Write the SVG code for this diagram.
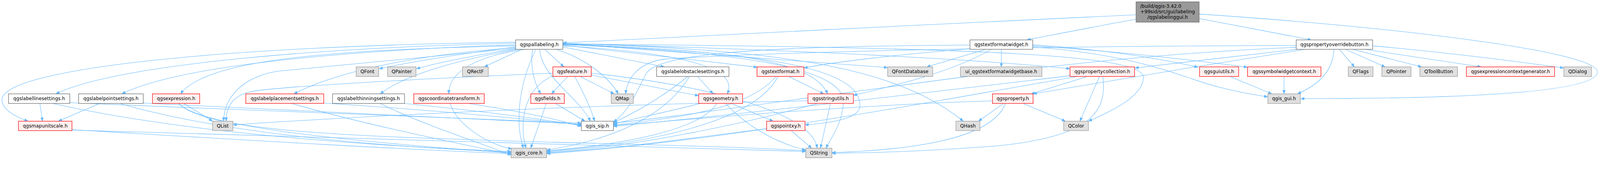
<svg xmlns="http://www.w3.org/2000/svg" width="4335" height="432" viewBox="0 0 4335 432" style="max-width:100vw;height:auto">
<style>
.w{fill:#ffffff;stroke:#666666;stroke-width:1.3}
.g{fill:#e0e0e0;stroke:#999999;stroke-width:1.3}
.r{fill:#fff0f0;stroke:#ff0000;stroke-width:1.3}
.top{fill:#999999;stroke:#666666;stroke-width:1.3}
text{font-family:"DejaVu Sans","Liberation Sans",sans-serif;font-size:12.8px;fill:#000000;text-anchor:middle}
#edges path{fill:none;stroke:#63b8ff;stroke-width:1.1;marker-end:url(#ah)}
</style>
<defs>
<marker id="ah" viewBox="0 0 10 8" refX="10" refY="4" markerWidth="10" markerHeight="8" markerUnits="userSpaceOnUse" orient="auto">
<polygon points="0,0 10,4 0,8" fill="#63b8ff" stroke="#63b8ff" stroke-width="0.5"/>
</marker>
</defs>
<rect width="4335" height="432" fill="#ffffff"/>
<g id="edges">
<path d="M3078,40 C2600,60 1900,100 1525,116"/>
<path d="M3078,52 C2950,75 2850,95 2782,108"/>
<path d="M3249,50 C3380,75 3480,95 3553,108"/>
<path d="M3249,38 C3800,75 4330,140 4328,195 C4326,255 3900,267 3524,267"/>
<path d="M1397,117 C900,128 330,170 151,254"/>
<path d="M1397,121 C1000,135 500,170 330,254"/>
<path d="M1397,124 C900,135 560,160 489,254"/>
<path d="M1397,114 C600,125 30,185 6,265 C0,295 40,315 76,328"/>
<path d="M1400,131 C1100,160 900,180 760,192 C680,200 606,250 606,328"/>
<path d="M1397,127 C1250,145 1100,170 1027,186"/>
<path d="M1400,132 C1280,150 1180,172 1128,186"/>
<path d="M1415,133 L1312,181"/>
<path d="M1397,129 C1100,150 900,200 796,254"/>
<path d="M1405,133 C1250,160 1100,200 1030,254"/>
<path d="M1425,133 C1300,150 1215,190 1216,254"/>
<path d="M1475,133 L1528,181"/>
<path d="M1443,133 C1435,180 1448,225 1465,254"/>
<path d="M1452,133 C1405,230 1395,330 1418,401"/>
<path d="M1462,133 C1468,210 1560,255 1600,328"/>
<path d="M1505,133 C1590,160 1650,210 1675,254"/>
<path d="M1525,127 L1800,181"/>
<path d="M1525,124 C1800,140 2010,175 1970,254"/>
<path d="M1525,122 L2052,182"/>
<path d="M1525,120 C1900,135 2200,150 2242,254"/>
<path d="M1525,118 L2405,183"/>
<path d="M1525,117 C2100,135 2420,175 2610,328"/>
<path d="M1525,119 C2050,140 2330,180 2330,285 C2330,320 2260,332 2181,338"/>
<path d="M1525,121 C2150,145 2290,210 2285,280 C2280,340 2250,375 2238,401"/>
<path d="M1525,118 C2200,135 2700,165 2899,186"/>
<path d="M1525,119 C2700,128 3100,150 3098,210 C3096,265 3000,305 2949,328"/>
<path d="M1538,207 L1494,254"/>
<path d="M1572,207 L1664,254"/>
<path d="M1557,207 C1580,250 1600,290 1611,328"/>
<path d="M1498,205 C1420,240 1405,330 1425,401"/>
<path d="M1498,198 C1100,215 750,235 680,248 C630,258 612,290 613,328"/>
<path d="M1602,203 L1893,259"/>
<path d="M1602,198 C1900,230 2200,300 2214,401"/>
<path d="M1890,207 L1932,254"/>
<path d="M1863,207 C1800,260 1720,305 1662,332"/>
<path d="M1868,207 C1800,320 1650,380 1481,406"/>
<path d="M1897,280 C1800,305 1720,320 1662,336"/>
<path d="M1942,280 C1900,350 1700,390 1481,408"/>
<path d="M1982,280 L2095,328"/>
<path d="M1966,280 C2030,350 2120,392 2183,406"/>
<path d="M2137,207 L2232,254"/>
<path d="M2103,207 C2040,280 1900,315 1662,338"/>
<path d="M2108,207 C2050,320 1800,385 1481,410"/>
<path d="M2250,280 L2223,401"/>
<path d="M2189,273 C1500,285 900,320 631,338"/>
<path d="M2215,280 C2000,340 1700,400 1481,412"/>
<path d="M2143,353 L2199,401"/>
<path d="M2077,348 C1900,370 1700,400 1481,414"/>
<path d="M2719,280 L2651,328"/>
<path d="M2724,280 C2690,370 2500,405 2254,413"/>
<path d="M2772,280 L2887,328"/>
<path d="M2689,273 C2300,285 1900,320 1662,340"/>
<path d="M2946,207 L2794,254"/>
<path d="M2979,207 L2926,328"/>
<path d="M2988,207 C3000,300 2960,370 2700,395 C2500,410 2350,414 2254,415"/>
<path d="M2899,205 C2600,240 2100,300 1662,342"/>
<path d="M2920,207 C2600,260 2000,380 1481,416"/>
<path d="M2713,133 L2713,181"/>
<path d="M2673,133 L2511,181"/>
<path d="M2687,133 C2580,195 2430,230 2312,258"/>
<path d="M2628,132 C2400,150 2250,170 2178,184"/>
<path d="M2628,122 C2000,125 1780,150 1750,200 C1720,260 1700,305 1662,330"/>
<path d="M2798,121 C3000,135 3150,160 3246,182"/>
<path d="M2798,124 C3050,140 3250,165 3380,182"/>
<path d="M2798,127 C3100,150 3200,210 3300,235 C3350,248 3400,257 3435,262"/>
<path d="M3628,133 L3670,181"/>
<path d="M3644,133 L3753,181"/>
<path d="M3662,133 L3852,181"/>
<path d="M3694,133 L4013,181"/>
<path d="M3719,124 C3900,140 4100,165 4237,184"/>
<path d="M3614,133 C3612,200 3560,235 3515,254"/>
<path d="M3518,133 L3075,184"/>
<path d="M3540,133 C3300,170 3000,220 2799,254"/>
<path d="M3512,123 C2800,125 2100,140 1800,160 C1730,170 1700,210 1695,254"/>
<path d="M3512,128 C3000,150 2600,210 2300,250 C2000,290 1800,320 1662,333"/>
<path d="M3332,207 L3446,254"/>
<path d="M3479,207 L3479,254"/>
<path d="M108,280 L115,328"/>
<path d="M270,280 L158,328"/>
<path d="M189,278 C700,300 1300,320 1575,333"/>
<path d="M143,280 C500,360 1000,395 1385,410"/>
<path d="M388,279 C800,300 1300,320 1575,336"/>
<path d="M325,280 C600,360 1000,395 1385,412"/>
<path d="M498,280 L576,328"/>
<path d="M484,280 C540,340 900,380 1385,414"/>
<path d="M484,280 C560,360 1000,370 1500,385 C1900,395 2100,402 2183,408"/>
<path d="M195,351 C600,375 1000,400 1385,416"/>
<path d="M195,352 C1000,380 1800,395 2183,410"/>
<path d="M877,279 C1200,300 1400,320 1575,338"/>
<path d="M790,280 C1000,340 1250,390 1385,418"/>
<path d="M1096,280 C1300,300 1450,320 1575,340"/>
<path d="M1030,280 C1150,340 1300,385 1385,420"/>
<path d="M1270,280 C1400,300 1500,320 1575,342"/>
<path d="M1219,280 C1240,340 1320,390 1387,403"/>
<path d="M1505,280 L1585,328"/>
<path d="M1480,280 L1438,401"/>
</g>
<g id="n_top"><rect class="top" x="3078" y="5" width="171" height="55"/><text x="3089" y="21" style="text-anchor:start">/build/qgis-3.42.0</text><text x="3090" y="36" style="text-anchor:start">+99sid/src/gui/labeling</text><text x="3163.5" y="50.5">/qgslabelinggui.h</text></g>
<g id="n_pal"><rect class="w" x="1397" y="108" width="128" height="25.5"/><text x="1461" y="125">qgspallabeling.h</text></g>
<g id="n_tfw"><rect class="w" x="2628" y="108" width="170" height="25.5"/><text x="2713" y="125">qgstextformatwidget.h</text></g>
<g id="n_pob"><rect class="w" x="3512" y="108" width="207" height="25.5"/><text x="3615.5" y="125">qgspropertyoverridebutton.h</text></g>
<g id="n_qfont"><rect class="g" x="965" y="181" width="61" height="26"/><text x="995.5" y="198.5">QFont</text></g>
<g id="n_qpainter"><rect class="g" x="1050" y="181" width="77" height="26"/><text x="1088.5" y="198.5">QPainter</text></g>
<g id="n_qrectf"><rect class="g" x="1253" y="181" width="70" height="26"/><text x="1288" y="198.5">QRectF</text></g>
<g id="n_feature"><rect class="r" x="1498" y="181" width="104" height="26"/><text x="1550" y="198.5">qgsfeature.h</text></g>
<g id="n_obst"><rect class="w" x="1779" y="181" width="196" height="26"/><text x="1877" y="198.5">qgslabelobstaclesettings.h</text></g>
<g id="n_tf"><rect class="r" x="2051" y="181" width="127" height="26"/><text x="2114.5" y="198.5">qgstextformat.h</text></g>
<g id="n_qfontdb"><rect class="g" x="2405" y="181" width="122" height="26"/><text x="2466" y="198.5">QFontDatabase</text></g>
<g id="n_ui"><rect class="g" x="2602" y="181" width="221" height="26"/><text x="2712.5" y="198.5">ui_qgstextformatwidgetbase.h</text></g>
<g id="n_pc"><rect class="r" x="2899" y="181" width="175" height="26"/><text x="2986.5" y="198.5">qgspropertycollection.h</text></g>
<g id="n_guiutils"><rect class="r" x="3250" y="181" width="106" height="26"/><text x="3303" y="198.5">qgsguiutils.h</text></g>
<g id="n_swc"><rect class="r" x="3380" y="181" width="199" height="26"/><text x="3479.5" y="198.5">qgssymbolwidgetcontext.h</text></g>
<g id="n_qflags"><rect class="g" x="3653" y="181" width="67" height="26"/><text x="3686.5" y="198.5">QFlags</text></g>
<g id="n_qpointer"><rect class="g" x="3744" y="181" width="79" height="26"/><text x="3783.5" y="198.5">QPointer</text></g>
<g id="n_qtoolbutton"><rect class="g" x="3847" y="181" width="102" height="26"/><text x="3898" y="198.5">QToolButton</text></g>
<g id="n_ecg"><rect class="r" x="3973" y="181" width="239" height="26"/><text x="4092.5" y="198.5">qgsexpressioncontextgenerator.h</text></g>
<g id="n_qdialog"><rect class="g" x="4237" y="181" width="75" height="26"/><text x="4274.5" y="198.5">QDialog</text></g>
<g id="n_lls"><rect class="w" x="23" y="254" width="166" height="26"/><text x="106" y="271.5">qgslabellinesettings.h</text></g>
<g id="n_lps"><rect class="w" x="213" y="254" width="175" height="26"/><text x="300.5" y="271.5">qgslabelpointsettings.h</text></g>
<g id="n_expr"><rect class="r" x="413" y="254" width="128" height="26"/><text x="477" y="271.5">qgsexpression.h</text></g>
<g id="n_lpls"><rect class="r" x="666" y="254" width="211" height="26"/><text x="771.5" y="271.5">qgslabelplacementsettings.h</text></g>
<g id="n_lts"><rect class="w" x="901" y="254" width="195" height="26"/><text x="998.5" y="271.5">qgslabelthinningsettings.h</text></g>
<g id="n_ct"><rect class="r" x="1121" y="254" width="191" height="26"/><text x="1216.5" y="271.5">qgscoordinatetransform.h</text></g>
<g id="n_fields"><rect class="r" x="1438" y="254" width="91" height="26"/><text x="1483.5" y="271.5">qgsfields.h</text></g>
<g id="n_qmap"><rect class="g" x="1656" y="254" width="60" height="26"/><text x="1686" y="271.5">QMap</text></g>
<g id="n_geom"><rect class="r" x="1893" y="254" width="119" height="26"/><text x="1952.5" y="271.5">qgsgeometry.h</text></g>
<g id="n_su"><rect class="r" x="2189" y="254" width="123" height="26"/><text x="2250.5" y="271.5">qgsstringutils.h</text></g>
<g id="n_prop"><rect class="r" x="2689" y="254" width="110" height="26"/><text x="2744" y="271.5">qgsproperty.h</text></g>
<g id="n_gui"><rect class="g" x="3435" y="254" width="88" height="26"/><text x="3479" y="271.5">qgis_gui.h</text></g>
<g id="n_mus"><rect class="r" x="50" y="328" width="145" height="25.5"/><text x="122.5" y="345">qgsmapunitscale.h</text></g>
<g id="n_qlist"><rect class="g" x="576" y="328" width="55" height="25.5"/><text x="603.5" y="345">QList</text></g>
<g id="n_sip"><rect class="w" x="1575" y="328" width="87" height="25.5"/><text x="1618.5" y="345">qgis_sip.h</text></g>
<g id="n_pxy"><rect class="r" x="2077" y="328" width="104" height="25.5"/><text x="2129" y="345">qgspointxy.h</text></g>
<g id="n_qhash"><rect class="g" x="2590" y="328" width="65" height="25.5"/><text x="2622.5" y="345">QHash</text></g>
<g id="n_qcolor"><rect class="g" x="2882" y="328" width="67" height="25.5"/><text x="2915.5" y="345">QColor</text></g>
<g id="n_core"><rect class="g" x="1385" y="401" width="96" height="26"/><text x="1433" y="418.5">qgis_core.h</text></g>
<g id="n_qstring"><rect class="g" x="2183" y="401" width="71" height="26"/><text x="2218.5" y="418.5">QString</text></g>
</svg>
